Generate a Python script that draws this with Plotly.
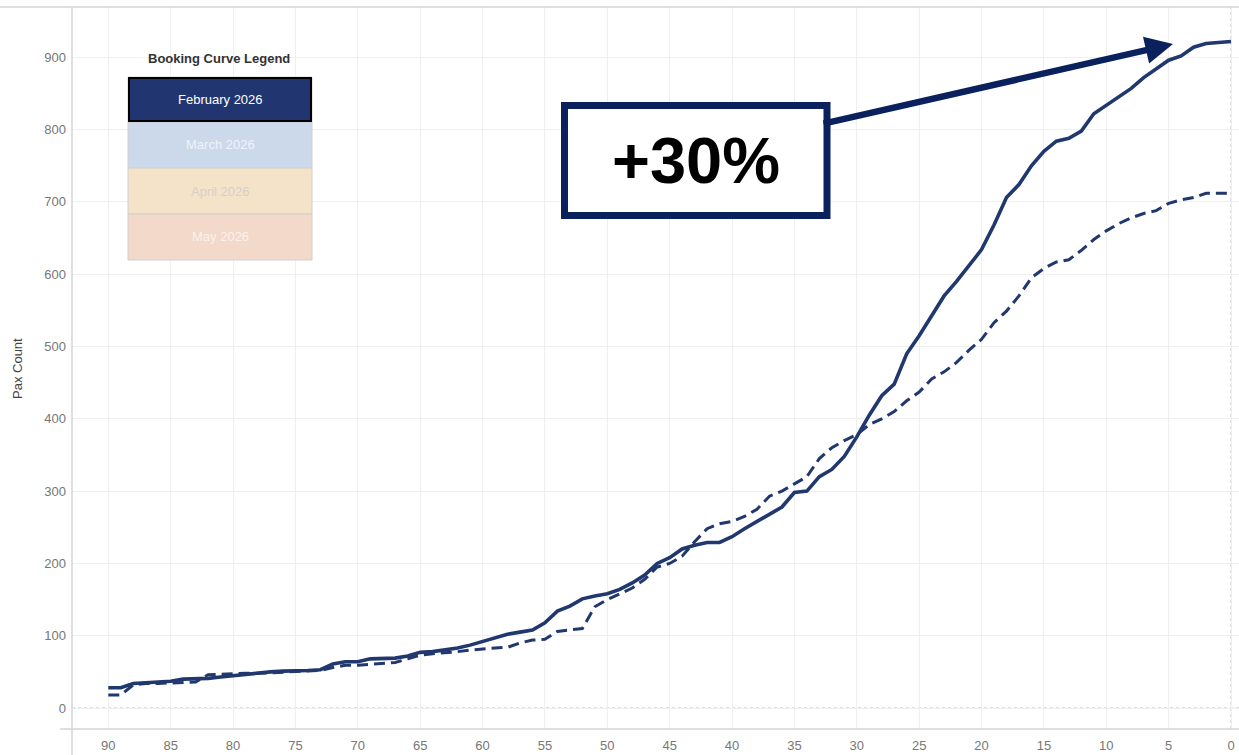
import plotly.graph_objects as go

# ---- data ----
days_out = list(range(90, -1, -1))
feb_2026 = [28, 28, 34, 35, 35, 37, 40, 40, 41, 43,
            45, 46, 48, 50, 51, 51, 52, 53, 61, 64,
            64, 68, 69, 69, 72, 77, 78, 80, 83, 87,
            92, 97, 102, 105, 108, 118, 134, 141, 151, 155,
            158, 164, 173, 184, 200, 208, 220, 225, 229, 229,
            237, 248, 258, 268, 278, 298, 300, 320, 330, 348,
            375, 405, 432, 448, 490, 515, 542, 570, 590, 612,
            634, 668, 706, 724, 750, 770, 784, 788, 798, 822,
            834, 846, 857, 872, 884, 896, 902, 914, 919, 921,
            922]
comparison = [18, 18, 32, 34, 34, 35, 35, 36, 46, 47,
              47, 48, 48, 49, 50, 51, 51, 52, 56, 59,
              59, 60, 61, 63, 68, 73, 75, 76, 78, 80,
              82, 83, 84, 90, 94, 95, 106, 108, 110, 140,
              150, 158, 166, 178, 195, 200, 210, 230, 248, 255,
              258, 265, 275, 293, 300, 310, 320, 345, 360, 370,
              378, 392, 400, 410, 425, 437, 455, 465, 478, 495,
              510, 533, 549, 570, 595, 608, 617, 620, 633, 648,
              660, 670, 678, 684, 688, 698, 703, 706, 712, 712,
              712]
x_ticks = list(range(90, -1, -5))
y_ticks = list(range(0, 901, 100))
legend_items = ["February 2026", "March 2026", "April 2026", "May 2026"]
legend_fills = ["#213670", "#cbd9ea", "#f4e3c8", "#f2d9ca"]
legend_text_colors = ["#ffffff", "#eef3f9", "#d6d0c8", "#fbf1ec"]
callout_text = "+30%"

W, H = 1239, 755
ML, MR, MT, MB = 72, 0, 7, 26
PW, PH = W - ML - MR, H - MT - MB


def px(x):
    return (x - ML) / PW


def py(y):
    return (H - MB - y) / PH


LINE = "#21386f"
NAVY = "#0b215e"
FONT = "Liberation Sans, Arial"

fig = go.Figure()
fig.add_trace(go.Scatter(x=days_out, y=comparison, mode="lines",
                         line=dict(color=LINE, width=3, dash="11px,6px"),
                         showlegend=False, hoverinfo="skip"))
fig.add_trace(go.Scatter(x=days_out, y=feb_2026, mode="lines",
                         line=dict(color=LINE, width=3.6),
                         showlegend=False, hoverinfo="skip"))

shapes = []
# frame lines
shapes.append(dict(type="line", xref="paper", yref="paper", x0=px(0), x1=1, y0=py(7), y1=py(7),
                   line=dict(color="#d4d4d4", width=1.5)))
shapes.append(dict(type="line", xref="paper", yref="paper", x0=0, x1=0, y0=py(755), y1=py(7),
                   line=dict(color="#d4d4d4", width=1.5)))
shapes.append(dict(type="line", xref="paper", yref="paper", x0=px(60), x1=1, y0=0, y1=0,
                   line=dict(color="#d4d4d4", width=1.5)))
# dotted zero lines
shapes.append(dict(type="line", xref="paper", yref="y", x0=0, x1=1, y0=0, y1=0, layer="below",
                   line=dict(color="#bdbdbd", width=1, dash="dot")))
shapes.append(dict(type="line", xref="x", yref="paper", x0=0, x1=0, y0=0, y1=1, layer="below",
                   line=dict(color="#bdbdbd", width=1, dash="dot")))

# legend boxes
row_tops = [77, 122, 168, 214, 260]
for i, (lab, fc) in enumerate(zip(legend_items, legend_fills)):
    shapes.append(dict(type="rect", xref="paper", yref="paper",
                       x0=px(128), x1=px(312), y0=py(row_tops[i + 1]), y1=py(row_tops[i]),
                       fillcolor=fc, line=dict(color="#d0d0d0", width=1)))
shapes.append(dict(type="rect", xref="paper", yref="paper",
                   x0=px(129), x1=px(311), y0=py(121), y1=py(78),
                   fillcolor=legend_fills[0], line=dict(color="#000000", width=2)))

# callout box
shapes.append(dict(type="rect", xref="paper", yref="paper",
                   x0=px(564.5), x1=px(827), y0=py(215.5), y1=py(105.5),
                   fillcolor="white", line=dict(color=NAVY, width=7), layer="above"))

annotations = []
annotations.append(dict(xref="paper", yref="paper", x=px(219), y=py(59), text="<b>Booking Curve Legend</b>",
                        showarrow=False, font=dict(family=FONT, size=13, color="#333333"),
                        xanchor="center", yanchor="middle"))
for i, (lab, tc) in enumerate(zip(legend_items, legend_text_colors)):
    yc = (row_tops[i] + row_tops[i + 1]) / 2
    annotations.append(dict(xref="paper", yref="paper", x=px(220), y=py(yc), text=lab, showarrow=False,
                            font=dict(family=FONT, size=13, color=tc),
                            xanchor="center", yanchor="middle"))
annotations.append(dict(xref="paper", yref="paper", x=px(17), y=py(368), text="Pax Count", textangle=-90,
                        showarrow=False, font=dict(family=FONT, size=13, color="#444444"),
                        xanchor="center", yanchor="middle"))
# arrow
annotations.append(dict(xref="paper", yref="paper", x=px(1173), y=py(44), ax=822 - 1173, ay=124 - 44,
                        axref="pixel", ayref="pixel", text="", showarrow=True,
                        arrowhead=2, arrowsize=0.85, arrowwidth=6.5, arrowcolor=NAVY))
annotations.append(dict(xref="paper", yref="paper", x=px(695.5), y=py(161), text="<b>" + callout_text + "</b>",
                        showarrow=False, font=dict(family=FONT, size=65, color="#000000"),
                        xanchor="center", yanchor="middle"))

fig.update_layout(
    width=W, height=H,
    margin=dict(l=ML, r=MR, t=MT, b=MB, autoexpand=False),
    paper_bgcolor="white", plot_bgcolor="white",
    shapes=shapes, annotations=annotations,
    showlegend=False,
    font=dict(family=FONT, size=13, color="#777777"),
    xaxis=dict(range=[92.91, -0.64], tickvals=x_ticks, ticktext=[str(v) for v in x_ticks],
               showgrid=True, gridcolor="#efefef", gridwidth=1, zeroline=False,
               showline=False, ticks="", ticklabelstandoff=7,
               tickfont=dict(family=FONT, size=13, color="#777777")),
    yaxis=dict(range=[-29.0, 969.6], tickvals=y_ticks, ticktext=[str(v) for v in y_ticks],
               showgrid=True, gridcolor="#efefef", gridwidth=1, zeroline=False,
               showline=False, ticks="", ticklabelstandoff=5,
               tickfont=dict(family=FONT, size=13, color="#777777")),
)

fig.write_html("out.html")
